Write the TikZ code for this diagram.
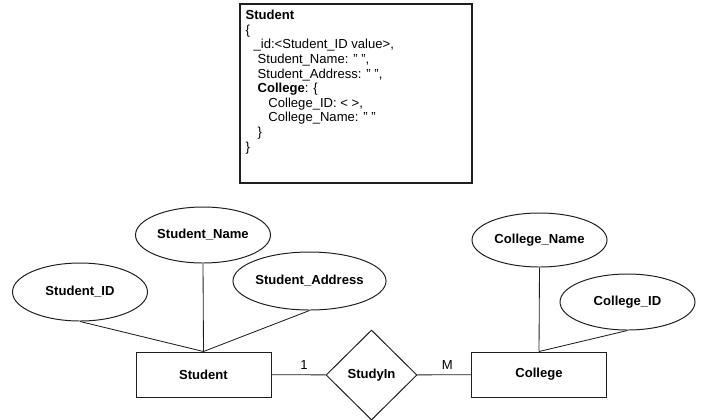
\documentclass[tikz,border=0pt]{standalone}
\usepackage{fontspec}
\setmainfont{Liberation Sans}
\usepackage{xcolor}
\usepackage{tikz}
\usetikzlibrary{shapes.geometric}
\definecolor{linegray}{RGB}{30, 30, 30}
\definecolor{textblack}{RGB}{0, 0, 0}
\newcommand{\erfont}{\fontsize{9.3}{10.4}\selectfont}
\tikzset{
    entity/.style={draw=linegray,line width=0.7pt,minimum width=3.375cm,minimum height=1.125cm,inner sep=0pt,font=\erfont\bfseries},
    attrib/.style={draw=linegray,ellipse,line width=0.7pt,minimum width=3.375cm,minimum height=1.4cm,inner sep=0pt,font=\erfont\bfseries},
    relation/.style={draw=linegray,diamond,line width=0.7pt,minimum width=2.275cm,minimum height=2.25cm,inner sep=0pt,font=\erfont\bfseries},
    link/.style={draw=linegray,line width=0.6pt},
    card/.style={font=\erfont,above,inner sep=3.5pt}
}

\begin{document}
\begin{tikzpicture}
    \useasboundingbox (0,0) rectangle (17.675,-10.475);

    % Document box
    \node[draw=linegray,line width=0.9pt,fill=white,minimum width=5.8cm,minimum height=4.475cm] (docbox) at (8.9,-2.3375) {};
    \node[anchor=north west,align=left,inner sep=0pt,font=\erfont,color=textblack] (doctext) at ([xshift=0.15cm,yshift=-0.16cm]docbox.north west) {%
        \textbf{Student}\\
        \{\\
        \hspace*{0.2cm}\_id:<Student\_ID value>,\\
        \hspace*{0.3cm}Student\_Name: " ",\\
        \hspace*{0.3cm}Student\_Address: " ",\\
        \hspace*{0.3cm}\textbf{College}: \{\\
        \hspace*{0.57cm}College\_ID: < >,\\
        \hspace*{0.57cm}College\_Name: " "\\
        \hspace*{0.3cm}\}\\
        \}};

    % Entities and relationship
    \node[entity] (student) at (5.0875,-9.3625) {Student};
    \node[relation] (studyin) at (9.2875,-9.375) {StudyIn};
    \node[entity] (college) at (13.475,-9.3625) {College};

    % Attributes
    \node[attrib,minimum height=1.45cm] (studentid) at (2.0,-7.3) {Student\_ID};
    \node[attrib] (studentname) at (5.075,-5.875) {Student\_Name};
    \node[attrib,minimum width=3.125cm,minimum height=1.45cm] (studentaddress) at (7.7375,-7.025) {Student\_Address};
    \node[attrib,minimum height=1.35cm] (collegename) at (13.4875,-6.0) {College\_Name};
    \node[attrib] (collegeid) at (15.6875,-7.55) {College\_ID};

    % Connectors
    \draw[link] (studentid.south) -- (student.north);
    \draw[link] (studentname.south) -- (student.north);
    \draw[link] (studentaddress.south) -- (student.north);
    \draw[link] (collegename.south) -- (college.north);
    \draw[link] (collegeid.south) -- (college.north);
    \draw[link] (student) -- node[card,pos=0.6] (one) {1} (studyin);
    \draw[link] (studyin) -- node[card,pos=0.56] (many) {M} (college);
\end{tikzpicture}
\end{document}
